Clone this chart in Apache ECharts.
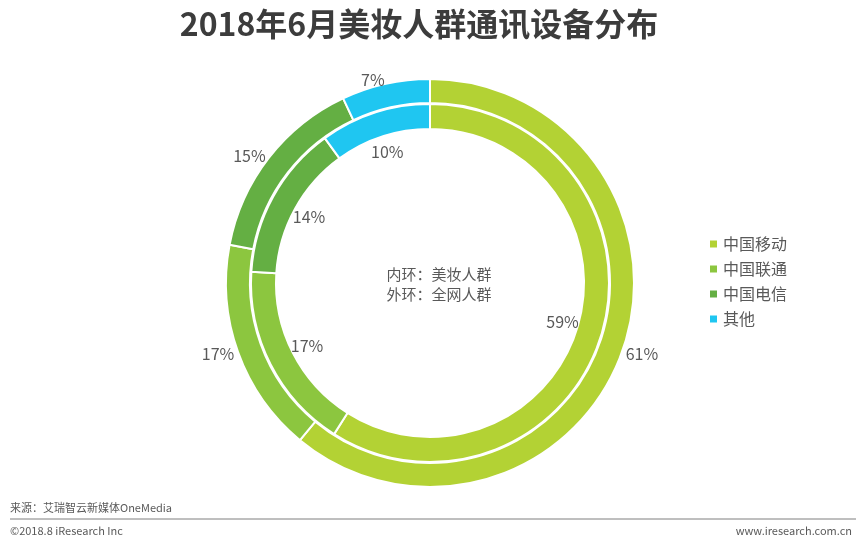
<!DOCTYPE html>
<html>
<head>
<meta charset="utf-8">
<script src="https://cdn.jsdelivr.net/npm/echarts@6/dist/echarts.min.js"></script>
<style>
html,body{margin:0;padding:0;background:#fff;}
#main{width:862px;height:542px;}
</style>
</head>
<body>
<div id="main"></div>
<script>
// ---- data ----
var categories = ['中国移动', '中国联通', '中国电信', '其他'];
var innerValues = [59, 17, 14, 10];   // 内环：美妆人群
var outerValues = [61, 17, 15, 7];    // 外环：全网人群
var colors = ['#b3d234', '#8cc63f', '#64af43', '#1fc6f1'];
var titleText = '2018年6月美妆人群通讯设备分布';
var centerText = '内环：美妆人群\n外环：全网人群';
var sourceText = '来源：艾瑞智云新媒体OneMedia';
var copyrightText = '©2018.8 iResearch Inc';
var siteText = 'www.iresearch.com.cn';

var FONT = '"Microsoft YaHei","Noto Sans CJK SC","Noto Sans",sans-serif';

function toData(vals) {
  return categories.map(function (c, i) { return { name: c, value: vals[i] }; });
}

var chart = echarts.init(document.getElementById('main'), null, { renderer: 'canvas' });
chart.setOption({
  backgroundColor: '#ffffff',
  color: colors,
  animation: false,
  title: [{
    text: titleText,
    left: 414,
    top: 3,
    textAlign: 'center',
    textStyle: { fontFamily: FONT, fontSize: 32, fontWeight: 'bold', color: '#3c3c3c' }
  }, {
    text: centerText,
    left: 434,
    top: 259,
    textAlign: 'center',
    textStyle: { fontFamily: FONT, fontSize: 15, fontWeight: 'normal', color: '#595959', lineHeight: 20 }
  }],
  legend: {
    orient: 'vertical',
    left: 703,
    top: 231,
    icon: 'rect',
    itemWidth: 9,
    itemHeight: 9,
    itemGap: 9,
    selectedMode: false,
    data: categories,
    textStyle: { fontFamily: FONT, fontSize: 16, color: '#595959', padding: [0, 0, 0, 0] }
  },
  graphic: [
    { type: 'text', left: 10, top: 502, style: { text: sourceText, font: '11px ' + FONT, fill: '#595959' } },
    { type: 'line', shape: { x1: 10, y1: 519, x2: 856, y2: 519 }, style: { stroke: '#7f7f7f', lineWidth: 1 } },
    { type: 'text', left: 10, top: 525, style: { text: copyrightText, font: '11px ' + FONT, fill: '#595959' } },
    { type: 'text', right: 10, top: 525, style: { text: siteText, font: '11px ' + FONT, fill: '#595959' } }
  ],
  series: [{
    name: '外环',
    type: 'pie',
    center: [430, 283],
    radius: [180, 204],
    startAngle: 90,
    clockwise: true,
    silent: true,
    itemStyle: { borderColor: '#ffffff', borderWidth: 2 },
    label: {
      show: true,
      position: 'outside',
      formatter: '{c}%',
      fontFamily: FONT,
      fontSize: 16,
      color: '#595959',
      distanceToLabelLine: 0
    },
    labelLine: { show: false, length: 4, length2: 0 },
    data: toData(outerValues)
  }, {
    name: '内环',
    type: 'pie',
    center: [430, 283],
    radius: [154, 179],
    startAngle: 90,
    clockwise: true,
    silent: true,
    itemStyle: { borderColor: '#ffffff', borderWidth: 2 },
    label: { show: false },
    labelLine: { show: false },
    data: toData(innerValues)
  }, {
    name: '内环标签',
    type: 'pie',
    center: [430, 283],
    radius: [116, 154],
    startAngle: 90,
    clockwise: true,
    silent: true,
    legendHoverLink: false,
    itemStyle: { color: 'rgba(0,0,0,0)' },
    label: {
      show: true,
      position: 'inside',
      formatter: '{c}%',
      fontFamily: FONT,
      fontSize: 16,
      color: '#595959'
    },
    labelLine: { show: false },
    data: toData(innerValues)
  }]
});
</script>
</body>
</html>
